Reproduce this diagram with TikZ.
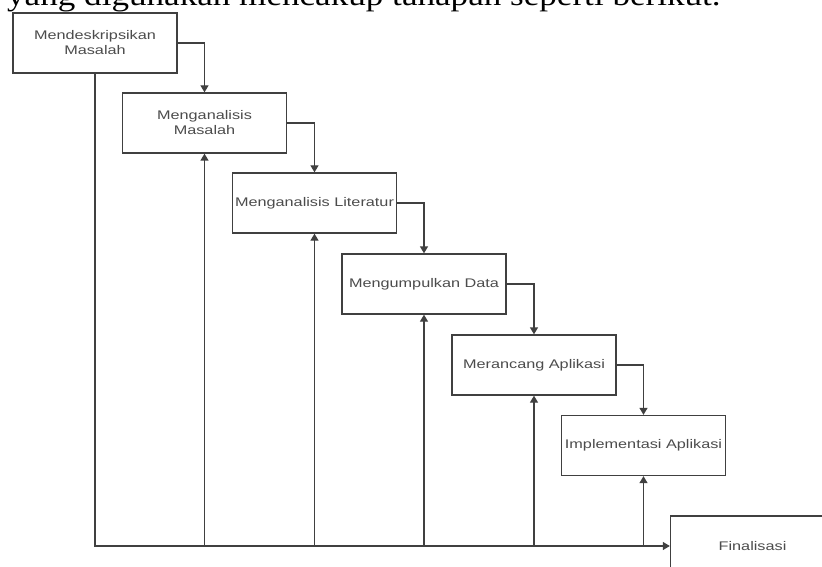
\documentclass[tikz,border=0pt]{standalone}
\usepackage{fontspec}
\setmainfont{Liberation Sans}[FakeStretch=1.3]
\newfontfamily\topfont{Liberation Serif}[FakeStretch=1.17]
\usetikzlibrary{arrows.meta}
\begin{document}
\begin{tikzpicture}[x=1pt,y=-1pt,
  stepbox/.style={draw=black!75,line width=1.3pt,minimum width=164pt,minimum height=60pt,
    inner sep=0pt,align=center,text=black!70,font=\fontsize{12.5}{15}\selectfont},
  conn/.style={draw=black!75,line width=1.3pt},
  arr/.style={conn,-{Triangle[length=7pt,width=8pt]}}]
\useasboundingbox (0,0) rectangle (822,567);
\clip (0,0) rectangle (822,567);
\fill[white] (0,0) rectangle (822,567);
\node[anchor=base west,inner sep=0pt,font=\topfont\fontsize{30}{34}\selectfont] (top) at (7,6) {yang digunakan mencakup tahapan seperti berikut.};
\node[stepbox] (b1) at (95,43) {Mendeskripsikan\\Masalah};
\node[stepbox] (b2) at (204.5,123) {Menganalisis\\Masalah};
\node[stepbox] (b3) at (314.5,203) {Menganalisis Literatur};
\node[stepbox] (b4) at (424,284) {Mengumpulkan Data};
\node[stepbox] (b5) at (534,365) {Merancang Aplikasi};
\node[stepbox] (b6) at (643.5,445.5) {Implementasi Aplikasi};
\node[stepbox] (b7) at (752.5,546) {Finalisasi};
\draw[arr] (b1.east) -| (b2.north);
\draw[arr] (b2.east) -| (b3.north);
\draw[arr] (b3.east) -| (b4.north);
\draw[arr] (b4.east) -| (b5.north);
\draw[arr] (b5.east) -| (b6.north);
\draw[arr] (b1.south) |- (b7.west);
\draw[arr] (b2.south |- b7.west) -- (b2.south);
\draw[arr] (b3.south |- b7.west) -- (b3.south);
\draw[arr] (b4.south |- b7.west) -- (b4.south);
\draw[arr] (b5.south |- b7.west) -- (b5.south);
\draw[arr] (b6.south |- b7.west) -- (b6.south);
\end{tikzpicture}
\end{document}
